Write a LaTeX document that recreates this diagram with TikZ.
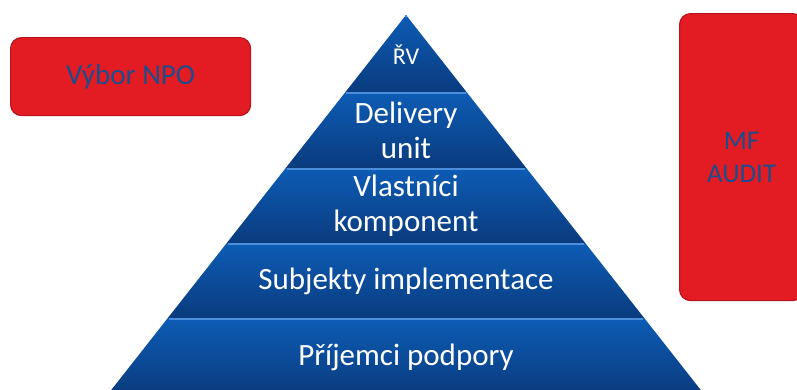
\documentclass[tikz,border=0pt]{standalone}
\usepackage{fontspec}
\setmainfont{Carlito}
\definecolor{boxred}{HTML}{E31C24}
\definecolor{boxedge}{HTML}{B8141B}
\definecolor{textblue}{HTML}{1D4C8A}
\definecolor{pyrtop}{HTML}{0D5CB5}
\definecolor{pyrbot}{HTML}{0A3B7E}
\definecolor{pyrline}{HTML}{4A8EDC}
\begin{document}
\begin{tikzpicture}[x=1pt, y=-1pt, line join=round, font=\fontsize{31}{35}\selectfont]
	\tikzset{redbox/.style={draw=boxedge, line width=1.2pt, fill=boxred, rounded corners=11pt, text=textblue, align=center},
		lvl/.style={text=white, align=center}}
	\useasboundingbox (0,0) rectangle (797,389);
	% pyramid, one band per level
	\foreach \ya/\yb in {15/92, 92/168, 168/243, 243/318, 318/395}{
		\pgfmathsetmacro{\wa}{0.7861*(\ya-15)}
		\pgfmathsetmacro{\wb}{0.7861*(\yb-15)}
		\shade[top color=pyrtop, bottom color=pyrbot] (406-\wa,\ya) -- (406+\wa,\ya) -- (406+\wb,\yb) -- (406-\wb,\yb) -- cycle;
		\draw[pyrline, line width=1.6pt] (406-\wa+1,\ya+1) -- (406+\wa-1,\ya+1);
	}
	\node[lvl, font=\fontsize{24}{28}\selectfont] (rv) at (406,55) {ŘV};
	\node[lvl] (delivery) at (406,130) {Delivery\\unit};
	\node[lvl] (vlastnici) at (406,206) {Vlastníci\\komponent};
	\node[lvl] (subjekty) at (406,281) {Subjekty implementace};
	\node[lvl] (prijemci) at (406,357) {Příjemci podpory};
	% side boxes
	\node[redbox, minimum width=240, minimum height=78, anchor=north west, font=\fontsize{29}{34}\selectfont] (vybor) at (10,37) {Výbor NPO};
	\node[redbox, minimum width=124, minimum height=287, anchor=north west, font=\fontsize{27}{33}\selectfont] (mf) at (679,13) {MF\\AUDIT};
\end{tikzpicture}
\end{document}
